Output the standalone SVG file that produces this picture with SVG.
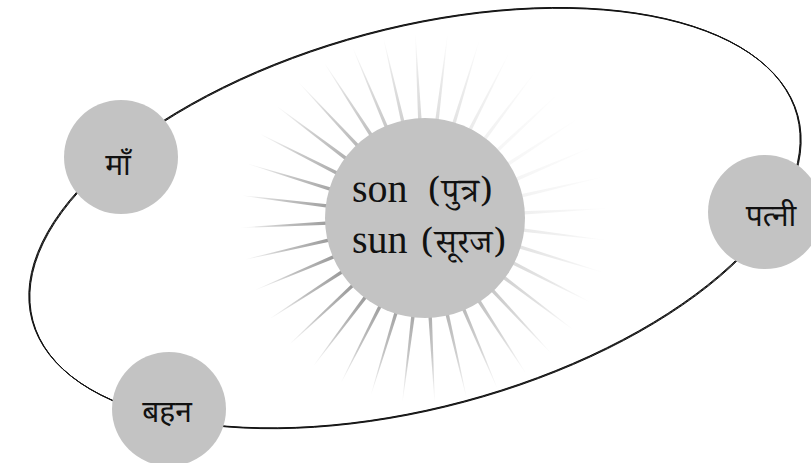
<svg xmlns="http://www.w3.org/2000/svg" xmlns:xlink="http://www.w3.org/1999/xlink" width="811" height="463" viewBox="0 0 811 463">
  <style>
    .node { fill: #c3c3c3; }
    .orbit { fill: none; stroke: #111; stroke-width: 0.9; }
    .lbl { font-family: 'Noto Sans', 'Noto Sans Devanagari', 'Liberation Sans', sans-serif; font-size: 30px; fill: #111; text-anchor: middle; }
    .sunt { font-family: 'Liberation Serif', 'Noto Serif Devanagari', serif; font-size: 40px; fill: #111; }
    .dev { font-family: 'Noto Serif Devanagari', 'Liberation Serif', serif; font-size: 34px; font-weight: normal; }
  </style>
  <defs>
    <linearGradient id="rayGrad" gradientUnits="userSpaceOnUse" x1="0" y1="-98" x2="0" y2="-186">
      <stop offset="0" stop-color="#909090"/>
      <stop offset="0.5" stop-color="#b8b8b8"/>
      <stop offset="1" stop-color="#ffffff"/>
    </linearGradient>
    <polygon id="ray" points="-1.8,-96 1.8,-96 0.2,-184 -0.2,-184" fill="url(#rayGrad)"/>
  </defs>
  <rect width="811" height="463" fill="#ffffff"/>

  <g id="connectors">
    <g transform="translate(415 218) rotate(-15)">
      <ellipse class="orbit" cx="-0.45" cy="-0.45" rx="396" ry="190"/>
      <ellipse class="orbit" cx="0" cy="0" rx="396" ry="190"/>
    </g>
    <g transform="translate(415.5 218.5) rotate(-15)">
      <ellipse class="orbit" cx="0" cy="0" rx="396" ry="190"/>
    </g>
  </g>

  <g id="sun">
    <g id="rays" transform="translate(425 218)">
      <use xlink:href="#ray" transform="rotate(7)" opacity="0.3"/>
      <use xlink:href="#ray" transform="rotate(17)" opacity="0.25"/>
      <use xlink:href="#ray" transform="rotate(27)" opacity="0.18"/>
      <use xlink:href="#ray" transform="rotate(37)" opacity="0.12"/>
      <use xlink:href="#ray" transform="rotate(47)" opacity="0.08"/>
      <use xlink:href="#ray" transform="rotate(57)" opacity="0.08"/>
      <use xlink:href="#ray" transform="rotate(67)" opacity="0.09"/>
      <use xlink:href="#ray" transform="rotate(77)" opacity="0.11"/>
      <use xlink:href="#ray" transform="rotate(87)" opacity="0.14"/>
      <use xlink:href="#ray" transform="rotate(97)" opacity="0.19"/>
      <use xlink:href="#ray" transform="rotate(107)" opacity="0.26"/>
      <use xlink:href="#ray" transform="rotate(117)" opacity="0.34"/>
      <use xlink:href="#ray" transform="rotate(127)" opacity="0.42"/>
      <use xlink:href="#ray" transform="rotate(137)" opacity="0.5"/>
      <use xlink:href="#ray" transform="rotate(147)" opacity="0.56"/>
      <use xlink:href="#ray" transform="rotate(157)" opacity="0.62"/>
      <use xlink:href="#ray" transform="rotate(167)" opacity="0.66"/>
      <use xlink:href="#ray" transform="rotate(177)" opacity="0.72"/>
      <use xlink:href="#ray" transform="rotate(187)" opacity="0.78"/>
      <use xlink:href="#ray" transform="rotate(197)" opacity="0.83"/>
      <use xlink:href="#ray" transform="rotate(207)" opacity="0.87"/>
      <use xlink:href="#ray" transform="rotate(217)" opacity="0.9"/>
      <use xlink:href="#ray" transform="rotate(227)" opacity="0.92"/>
      <use xlink:href="#ray" transform="rotate(237)" opacity="0.92"/>
      <use xlink:href="#ray" transform="rotate(247)" opacity="0.91"/>
      <use xlink:href="#ray" transform="rotate(257)" opacity="0.9"/>
      <use xlink:href="#ray" transform="rotate(267)" opacity="0.88"/>
      <use xlink:href="#ray" transform="rotate(277)" opacity="0.85"/>
      <use xlink:href="#ray" transform="rotate(287)" opacity="0.8"/>
      <use xlink:href="#ray" transform="rotate(297)" opacity="0.75"/>
      <use xlink:href="#ray" transform="rotate(307)" opacity="0.7"/>
      <use xlink:href="#ray" transform="rotate(317)" opacity="0.64"/>
      <use xlink:href="#ray" transform="rotate(327)" opacity="0.57"/>
      <use xlink:href="#ray" transform="rotate(337)" opacity="0.5"/>
      <use xlink:href="#ray" transform="rotate(347)" opacity="0.42"/>
      <use xlink:href="#ray" transform="rotate(357)" opacity="0.36"/>
    </g>
    <circle class="node" cx="425" cy="218" r="100"/>
    <text class="sunt" y="202"><tspan x="352">son</tspan><tspan class="dev" x="428">(पुत्र)</tspan></text>
    <text class="sunt" y="253"><tspan x="352">sun</tspan><tspan class="dev" x="421">(सूरज)</tspan></text>
  </g>

  <g id="maa">
    <circle class="node" cx="121" cy="157" r="57"/>
    <text class="lbl" x="118" y="175">माँ</text>
  </g>

  <g id="patni">
    <circle class="node" cx="765" cy="212" r="57"/>
    <text class="lbl" x="771" y="226">पत्नी</text>
  </g>

  <g id="bahan">
    <circle class="node" cx="169" cy="409" r="57"/>
    <text class="lbl" x="167" y="422">बहन</text>
  </g>
</svg>
